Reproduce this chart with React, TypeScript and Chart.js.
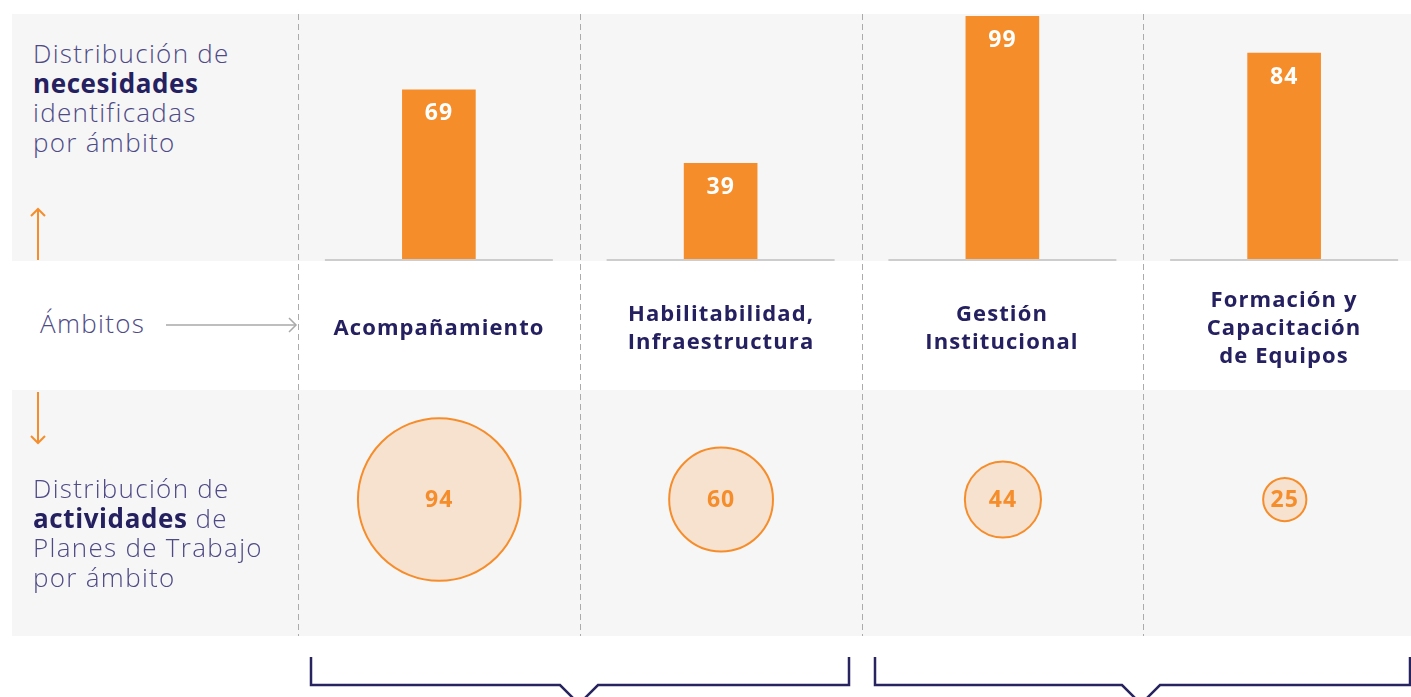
import React, { useEffect, useRef } from "react";
import { Chart, registerables } from "chart.js";

Chart.register(...registerables);

// ---- Data ----
const categories = [
  "Acompañamiento",
  "Habilitabilidad, Infraestructura",
  "Gestión Institucional",
  "Formación y Capacitación de Equipos",
];
const categoryLines = [
  ["Acompañamiento"],
  ["Habilitabilidad,", "Infraestructura"],
  ["Gestión", "Institucional"],
  ["Formación y", "Capacitación", "de Equipos"],
];
const necesidades = [69, 39, 99, 84];
const actividades = [94, 60, 44, 25];

// ---- Styles ----
const ORANGE = "#F68D2B";
const BUBBLE_FILL = "#F7E2D0";
const NAVY = "#252060";
const LIGHT_NAVY = "#4E4A86";
const PANEL = "#F6F6F6";
const FONT = "'Open Sans', 'Noto Sans', sans-serif";
const BUBBLE_SCALE = 0.865;
const BUBBLE_BORDER = 2;

const barPlugin = {
  id: "barDecor",
  beforeDatasetsDraw(chart: any) {
    const { ctx, chartArea, scales } = chart;
    ctx.save();
    ctx.strokeStyle = "#CDCDCD";
    ctx.lineWidth = 2;
    necesidades.forEach((_, i) => {
      const x = scales.x.getPixelForValue(i);
      ctx.beginPath();
      ctx.moveTo(x - 114, chartArea.bottom + 1);
      ctx.lineTo(x + 114, chartArea.bottom + 1);
      ctx.stroke();
    });
    ctx.restore();
  },
  afterDatasetsDraw(chart: any) {
    const { ctx } = chart;
    const meta = chart.getDatasetMeta(0);
    ctx.save();
    ctx.fillStyle = "#FFFFFF";
    ctx.font = `700 23px ${FONT}`;
    (ctx as any).letterSpacing = "1px";
    ctx.textAlign = "center";
    ctx.textBaseline = "middle";
    meta.data.forEach((el: any, i: number) => {
      ctx.fillText(String(necesidades[i]), el.x, el.y + 24);
    });
    ctx.restore();
  },
};

const bubblePlugin = {
  id: "bubbleLabels",
  afterDatasetsDraw(chart: any) {
    const { ctx } = chart;
    const meta = chart.getDatasetMeta(0);
    ctx.save();
    ctx.fillStyle = ORANGE;
    ctx.font = `700 23px ${FONT}`;
    (ctx as any).letterSpacing = "1px";
    ctx.textAlign = "center";
    ctx.textBaseline = "middle";
    meta.data.forEach((el: any, i: number) => {
      ctx.fillText(String(actividades[i]), el.x, el.y + 1);
    });
    ctx.restore();
  },
};

function BarChart() {
  const ref = useRef<HTMLCanvasElement>(null);
  useEffect(() => {
    const chart = new Chart(ref.current as HTMLCanvasElement, {
      type: "bar",
      data: {
        labels: categories,
        datasets: [
          {
            data: necesidades,
            backgroundColor: ORANGE,
            borderWidth: 0,
            barThickness: 73,
          },
        ],
      },
      options: {
        animation: false,
        responsive: false,
        maintainAspectRatio: false,
        layout: { padding: { left: 0, right: 0, top: 0, bottom: 3 } },
        plugins: { legend: { display: false }, tooltip: { enabled: false } },
        scales: {
          x: { display: false, offset: true },
          y: { display: false, min: 0, max: 100 },
        },
      },
      plugins: [barPlugin],
    } as any);
    return () => chart.destroy();
  }, []);
  return (
    <canvas
      ref={ref}
      width={1127}
      height={248}
      style={{ position: "absolute", left: 298, top: 14, width: 1127, height: 248 }}
    />
  );
}

// Chart.js pads the bubble chart area by the largest bubble's overflow;
// the canvas is enlarged by that amount so the plot area lines up with the columns.
const OVERFLOW = Math.max(...actividades) * BUBBLE_SCALE + BUBBLE_BORDER;
const BUB_W = 1127 + 2 * OVERFLOW;
const BUB_H = 218 + 2 * OVERFLOW;

function BubbleChart() {
  const ref = useRef<HTMLCanvasElement>(null);
  useEffect(() => {
    const chart = new Chart(ref.current as HTMLCanvasElement, {
      type: "bubble",
      data: {
        datasets: [
          {
            data: actividades.map((v, i) => ({ x: i, y: 0, r: v * BUBBLE_SCALE })),
            backgroundColor: BUBBLE_FILL,
            borderColor: ORANGE,
            borderWidth: BUBBLE_BORDER,
            clip: false,
          },
        ],
      },
      options: {
        animation: false,
        responsive: false,
        maintainAspectRatio: false,
        layout: { padding: 0 },
        plugins: { legend: { display: false }, tooltip: { enabled: false } },
        scales: {
          x: { display: false, min: -0.5, max: 3.5 },
          y: { display: false, min: -1, max: 1 },
        },
      },
      plugins: [bubblePlugin],
    } as any);
    return () => chart.destroy();
  }, []);
  return (
    <canvas
      ref={ref}
      width={Math.round(BUB_W)}
      height={Math.round(BUB_H)}
      style={{
        position: "absolute",
        left: Math.round(298 - OVERFLOW),
        top: Math.round(499 - BUB_H / 2),
        width: Math.round(BUB_W),
        height: Math.round(BUB_H),
      }}
    />
  );
}

const colCenters = [439, 721, 1002, 1284];
const dashedX = [298, 580, 862, 1143];

const lightText: React.CSSProperties = {
  fontFamily: FONT,
  fontWeight: 300,
  fontSize: 26,
  letterSpacing: "1.3px",
  lineHeight: "29.5px",
  color: LIGHT_NAVY,
  whiteSpace: "nowrap",
};

export default function App() {
  return (
    <div
      style={{
        position: "absolute",
        left: 0,
        top: 0,
        width: 1411,
        height: 697,
        overflow: "hidden",
        background: "#FFFFFF",
      }}
    >
      <div style={{ position: "absolute", left: 12, top: 14, width: 1399, height: 247, background: PANEL }} />
      <div style={{ position: "absolute", left: 12, top: 390, width: 1399, height: 246, background: PANEL }} />

      <svg width={1411} height={697} style={{ position: "absolute", left: 0, top: 0 }}>
        {dashedX.map((x) => (
          <line
            key={x}
            x1={x + 0.5}
            y1={14}
            x2={x + 0.5}
            y2={636}
            stroke="#ABABAB"
            strokeWidth={1}
            strokeDasharray="6 4"
          />
        ))}
        {/* gray arrow */}
        <line x1={166} y1={325} x2={296} y2={325} stroke="#A9A9A9" strokeWidth={1.5} />
        <polyline points="289,318 296,325 289,332" fill="none" stroke="#A9A9A9" strokeWidth={1.5} />
        {/* orange up arrow */}
        <line x1={38} y1={209} x2={38} y2={260} stroke={ORANGE} strokeWidth={2} />
        <polyline points="31,216 38,209 45,216" fill="none" stroke={ORANGE} strokeWidth={2} />
        {/* orange down arrow */}
        <line x1={38} y1={392} x2={38} y2={443} stroke={ORANGE} strokeWidth={2} />
        <polyline points="31,436 38,443 45,436" fill="none" stroke={ORANGE} strokeWidth={2} />
        {/* brackets */}
        <polyline
          points="311,657 311,685 560,685 579,704 598,685 849,685 849,657"
          fill="none"
          stroke="#27245F"
          strokeWidth={2.5}
        />
        <polyline
          points="875,657 875,685 1122,685 1141,704 1160,685 1410,685 1410,657"
          fill="none"
          stroke="#27245F"
          strokeWidth={2.5}
        />
      </svg>

      <BarChart />
      <BubbleChart />

      <div style={{ ...lightText, position: "absolute", left: 33, top: 39 }}>
        <div>Distribución de</div>
        <div style={{ fontWeight: 700, color: NAVY, letterSpacing: "0.6px" }}>necesidades</div>
        <div>identificadas</div>
        <div>por ámbito</div>
      </div>

      <div style={{ ...lightText, position: "absolute", left: 40, top: 309 }}>Ámbitos</div>

      <div style={{ ...lightText, position: "absolute", left: 33, top: 474 }}>
        <div>Distribución de</div>
        <div>
          <span style={{ fontWeight: 700, color: NAVY, letterSpacing: "0.6px" }}>actividades</span> de
        </div>
        <div>Planes de Trabajo</div>
        <div>por ámbito</div>
      </div>

      {categoryLines.map((lines, i) => (
        <div
          key={i}
          style={{
            position: "absolute",
            left: colCenters[i] - 140,
            top: 261,
            width: 280,
            height: 130,
            display: "flex",
            flexDirection: "column",
            justifyContent: "center",
            alignItems: "center",
            fontFamily: FONT,
            fontWeight: 700,
            fontSize: 22,
            lineHeight: "28px",
            color: NAVY,
            textAlign: "center",
            letterSpacing: "1.1px",
          }}
        >
          {lines.map((l) => (
            <div key={l}>{l}</div>
          ))}
        </div>
      ))}
    </div>
  );
}
